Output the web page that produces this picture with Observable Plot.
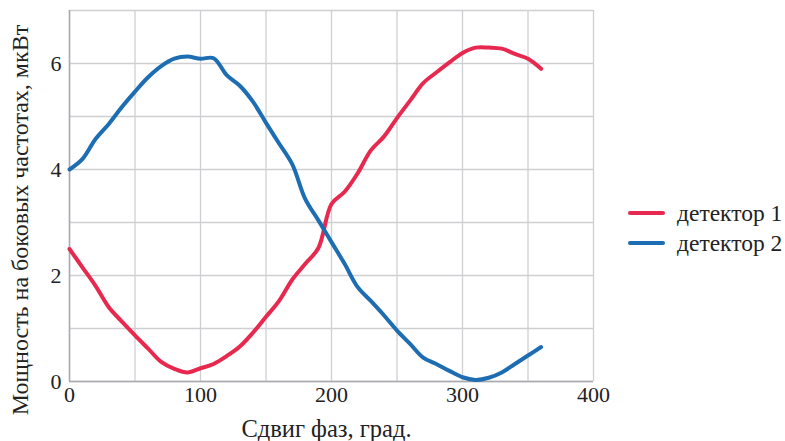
<!DOCTYPE html>
<html><head><meta charset="utf-8">
<script src="https://cdn.jsdelivr.net/npm/d3@7"></script>
<script src="https://cdn.jsdelivr.net/npm/@observablehq/plot@0.6"></script>
<style>
body{margin:0;background:#fff;font-family:"Liberation Serif",serif;}
#wrap{position:relative;width:785px;height:441px;}
#legend{position:absolute;left:628px;top:198px;font-size:23.5px;color:#222;font-family:"Liberation Serif",serif;}
.item{display:flex;align-items:center;height:30px;}
.sw{width:37px;height:4.5px;border-radius:2px;margin-right:12px;}
</style></head>
<body><div id="wrap"><div id="chart"></div><div id="legend"></div></div>
<script>
const phase = [0,10,20,30,40,50,60,70,80,90,100,110,120,130,140,150,160,170,180,190,200,210,220,230,240,250,260,270,280,290,300,310,320,330,340,350,360];
const det1 = [2.5,2.15,1.8,1.4,1.13,0.87,0.62,0.37,0.24,0.17,0.25,0.33,0.48,0.66,0.92,1.22,1.52,1.92,2.22,2.52,3.35,3.58,3.93,4.36,4.62,4.97,5.3,5.63,5.83,6.02,6.2,6.3,6.3,6.28,6.18,6.09,5.9];
const det2 = [4.0,4.2,4.58,4.86,5.18,5.47,5.74,5.95,6.09,6.13,6.09,6.1,5.78,5.58,5.28,4.88,4.49,4.1,3.44,3.04,2.63,2.22,1.78,1.52,1.25,0.96,0.71,0.45,0.33,0.2,0.08,0.03,0.07,0.17,0.33,0.49,0.65];
const seriesNames = ["детектор 1","детектор 2"];
const colors = ["#e8294f","#1d6db3"];
const xTicks = [0,100,200,300,400];
const yTicks = [0,2,4,6];
const xGrid = [0,50,100,150,200,250,300,350,400];
const yGrid = [0,1,2,3,4,5,6,7];

const data = [];
phase.forEach((p,i)=>{
  data.push({phase:p, value:det1[i], series:seriesNames[0]});
  data.push({phase:p, value:det2[i], series:seriesNames[1]});
});

const chart = Plot.plot({
  width: 610, height: 441,
  marginLeft: 69, marginRight: 17, marginTop: 10, marginBottom: 60,
  style:"background:#fff;font-family:'Liberation Serif',serif;overflow:visible;",
  x:{domain:[0,400]},
  y:{domain:[0,7]},
  color:{domain:seriesNames, range:colors},
  marks:[
    Plot.gridX(xGrid,{stroke:"#cfcfd3", strokeOpacity:1, strokeWidth:1.3}),
    Plot.gridY(yGrid,{stroke:"#cfcfd3", strokeOpacity:1, strokeWidth:1.3}),
    Plot.ruleX([0],{stroke:"#a9a9ae", strokeWidth:1.5}),
    Plot.ruleY([0],{stroke:"#a9a9ae", strokeWidth:1.5}),
    Plot.line(data,{x:"phase", y:"value", z:"series", stroke:"series", strokeWidth:4, curve:"catmull-rom"}),
    Plot.axisX({ticks:xTicks, tickFormat:"d", tickSize:0, tickPadding:5, fontSize:22, label:null}),
    Plot.axisY({ticks:yTicks, tickFormat:"d", tickSize:0, tickPadding:8, fontSize:22, label:null}),
    Plot.axisX({ticks:[], tickSize:0, fontSize:24.5, label:"Сдвиг фаз, град.", labelAnchor:"center", labelOffset:55, labelArrow:"none"}),
    Plot.axisY({ticks:[], tickSize:0, fontSize:24, label:"Мощность на боковых частотах, мкВт", labelAnchor:"center", labelOffset:59, labelArrow:"none"})
  ]
});
const s = d3.select(chart);
s.selectAll("text").style("font-family","'Liberation Serif', serif").style("fill","#222");
// the reference centres its axis titles on the whole figure, not on the frame
s.selectAll("g[aria-label='y-axis label']").each(function(){
  const t = this.getAttribute("transform") || "";
  this.setAttribute("transform", t + " translate(0,24)");
});
s.selectAll("g[aria-label='x-axis label']").each(function(){
  const t = this.getAttribute("transform") || "";
  this.setAttribute("transform", t + " translate(-5,0)");
});
document.getElementById("chart").appendChild(chart);

const lg = document.getElementById("legend");
seriesNames.forEach((n,i)=>{
  const it = document.createElement("div"); it.className="item";
  const sw = document.createElement("div"); sw.className="sw"; sw.style.background=colors[i];
  const t = document.createElement("span"); t.textContent=n;
  it.appendChild(sw); it.appendChild(t); lg.appendChild(it);
});
</script></body></html>
